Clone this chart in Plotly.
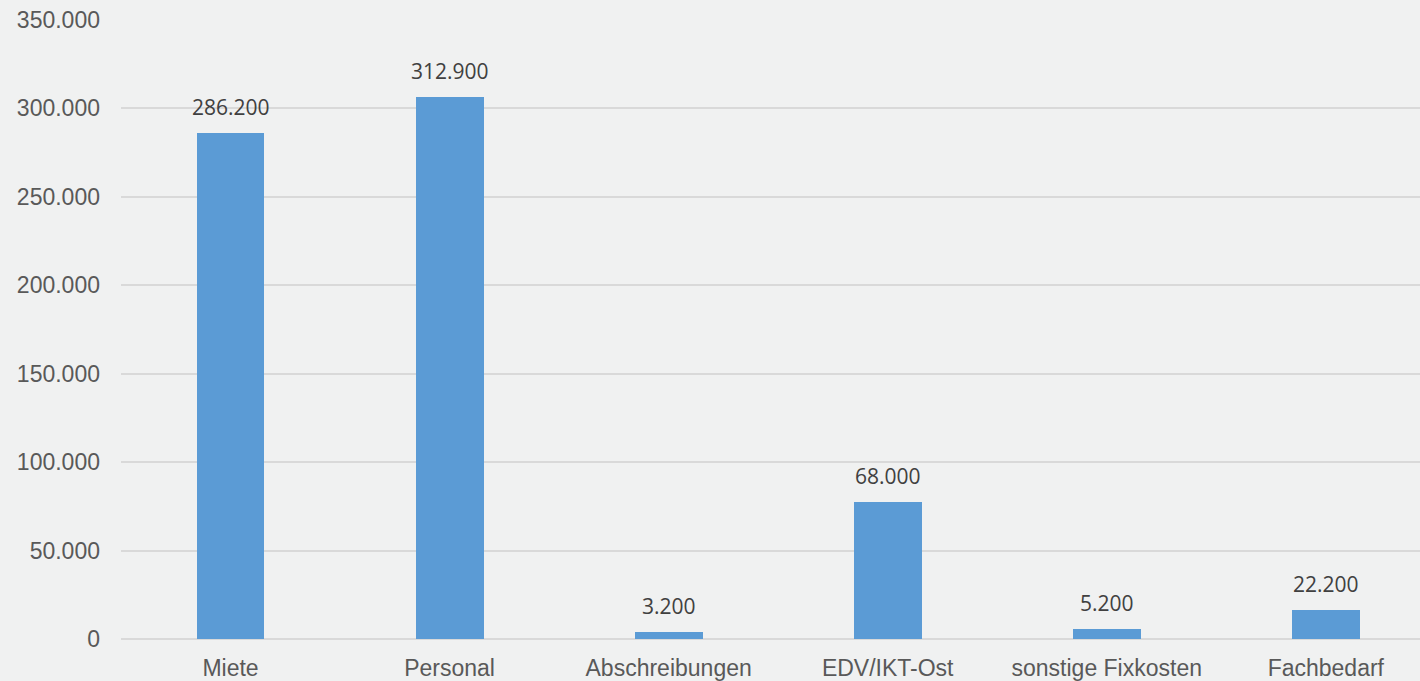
import plotly.graph_objects as go

categories = ["Miete", "Personal", "Abschreibungen", "EDV/IKT-Ost", "sonstige Fixkosten", "Fachbedarf"]
bar_values = [286100, 306700, 3700, 77400, 5800, 16600]
label_texts = ["286.200", "312.900", "3.200", "68.000", "5.200", "22.200"]
y_tickvals = [0, 50000, 100000, 150000, 200000, 250000, 300000, 350000]
y_ticktext = ["0", "50.000", "100.000", "150.000", "200.000", "250.000", "300.000", "350.000"]

BG = "#f0f1f1"

fig = go.Figure()
fig.add_trace(go.Bar(
    x=categories,
    y=bar_values,
    marker=dict(color="#5b9bd5", line=dict(width=0)),
    width=0.31,
    hoverinfo="skip",
))

for c, v, t in zip(categories, bar_values, label_texts):
    fig.add_annotation(
        x=c, y=v, text=t, showarrow=False,
        yanchor="middle", yshift=26,
        font=dict(family="Open Sans", size=21, color="#404040"),
    )

fig.update_layout(
    width=1420, height=681,
    paper_bgcolor=BG, plot_bgcolor=BG,
    margin=dict(l=121, r=0, t=20, b=42),
    showlegend=False,
    bargap=0,
)
fig.update_xaxes(
    range=[-0.5, 5.43],
    showgrid=False,
    showline=False,
    zeroline=False,
    tickfont=dict(family="Liberation Sans", size=23, color="#595959"),
    ticks="",
    ticklabelstandoff=13,
)
fig.update_yaxes(
    range=[0, 350000],
    tickvals=y_tickvals,
    ticktext=y_ticktext,
    showgrid=True,
    gridcolor="#d9d9d9",
    gridwidth=2,
    zeroline=True,
    zerolinecolor="#d9d9d9",
    zerolinewidth=2,
    showline=False,
    tickfont=dict(family="Liberation Sans", size=23, color="#595959"),
    ticks="",
    ticklabelstandoff=20,
)

fig.write_html(
    "out.html",
    config={"displayModeBar": False},
    post_script="document.body.style.margin='0';document.body.style.background='#f0f1f1';",
)
